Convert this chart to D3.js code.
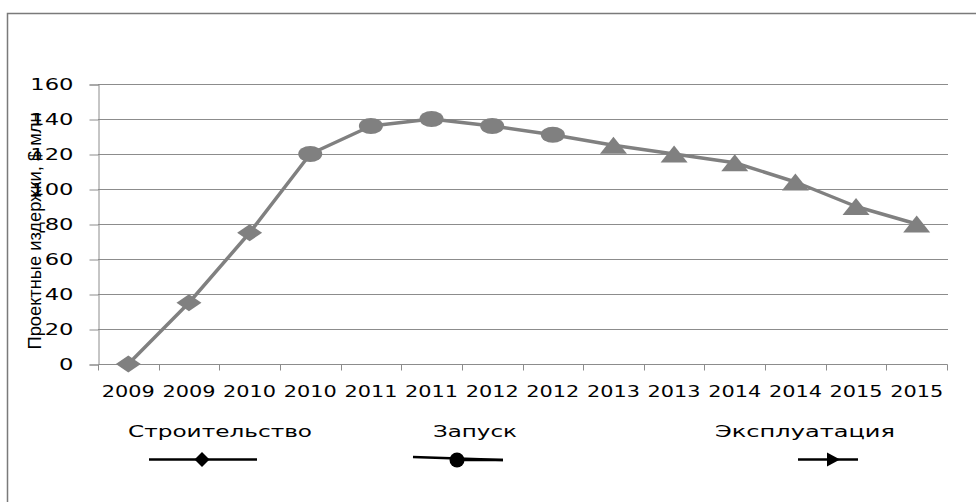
<!DOCTYPE html>
<html>
<head>
<meta charset="utf-8">
<script src="https://cdn.jsdelivr.net/npm/d3@7"></script>
<style>
  body { margin: 0; background: #fff; }
  text { font-family: "DejaVu Sans", sans-serif; fill: #000; }
</style>
</head>
<body>
<div id="chart"></div>
<script>
// categories along the x axis (labels repeat, so positions are indices)
const years = ["2009", "2009", "2010", "2010", "2011", "2011", "2012",
               "2012", "2013", "2013", "2014", "2014", "2015", "2015"];
// project costs, $ mln
const costs = [0, 35, 75, 120, 136, 140, 136, 131, 125, 120, 115, 104, 90, 80];
// phase of each point: 0 construction, 1 launch, 2 operation
const phase = [0, 0, 0, 1, 1, 1, 1, 1, 2, 2, 2, 2, 2, 2];
const phaseNames = ["Строительство", "Запуск", "Эксплуатация"];
const yTicks = [0, 20, 40, 60, 80, 100, 120, 140, 160];

const width = 976, height = 502;
const gray = "#808080";

const svg = d3.select("#chart").append("svg")
  .attr("width", width)
  .attr("height", height);

// outer frame
svg.append("rect")
  .attr("x", 7.5).attr("y", 13.5)
  .attr("width", 1000).attr("height", 600)
  .attr("fill", "none").attr("stroke", "#7a7a7a").attr("stroke-width", 1.5);

const x = d3.scaleBand()
  .domain(d3.range(years.length))
  .range([98, 947]);

const y = d3.scaleLinear()
  .domain([0, 160])
  .range([364, 84]);

// gridlines
svg.append("g").selectAll("line").data(yTicks.slice(1)).enter()
  .append("line")
    .attr("x1", 98).attr("x2", 948)
    .attr("y1", d => Math.round(y(d)) + 0.5)
    .attr("y2", d => Math.round(y(d)) + 0.5)
    .attr("stroke", "#8c8c8c");

// y axis
const yAxis = svg.append("g")
  .attr("transform", "translate(98.5,0.5)")
  .call(d3.axisLeft(y).tickValues(yTicks).tickSize(9).tickPadding(16));
yAxis.select(".domain").attr("stroke", "#8c8c8c");
yAxis.selectAll(".tick line").attr("stroke", "#8c8c8c");
yAxis.selectAll(".tick text")
  .style("font-size", "16.5px")
  .style("font-family", "DejaVu Sans")
  .attr("textLength", d => String(d).length * 14.4)
  .attr("lengthAdjust", "spacingAndGlyphs");

// x axis, ticks on category boundaries
const xAxisG = svg.append("g")
  .attr("transform", "translate(0.5," + (y(0) + 0.5) + ")");
xAxisG.append("line")
  .attr("x1", 98).attr("x2", 947)
  .attr("stroke", "#8c8c8c");
xAxisG.selectAll(".xt").data(d3.range(years.length + 1)).enter()
  .append("line")
    .attr("x1", i => Math.round(i < years.length ? x(i) : x.range()[1]))
    .attr("x2", i => Math.round(i < years.length ? x(i) : x.range()[1]))
    .attr("y1", 0).attr("y2", 6)
    .attr("stroke", "#8c8c8c");
svg.append("g").selectAll("text").data(years).enter()
  .append("text")
    .attr("x", (d, i) => x(i) + x.bandwidth() / 2)
    .attr("y", 397)
    .attr("text-anchor", "middle")
    .attr("textLength", 53)
    .attr("lengthAdjust", "spacingAndGlyphs")
    .style("font-size", "16.5px")
    .text(d => d);

// y axis title
svg.append("text")
  .attr("transform", "translate(41,231) rotate(-90)")
  .attr("text-anchor", "middle")
  .attr("textLength", 237)
  .attr("lengthAdjust", "spacingAndGlyphs")
  .style("font-family", "Liberation Sans")
  .style("font-size", "19px")
  .text("Проектные издержки, $ млн");

// line
const line = d3.line()
  .x((d, i) => x(i) + x.bandwidth() / 2)
  .y(d => y(d));

svg.append("path")
  .datum(costs)
  .attr("fill", "none")
  .attr("stroke", gray)
  .attr("stroke-width", 3.5)
  .attr("stroke-linejoin", "round")
  .attr("d", line);

// marker shapes (drawn wider than tall, like the picture)
function marker(p, w, h) {
  if (p === 0) return `M${-w},0L0,${-h}L${w},0L0,${h}Z`;
  if (p === 1) return `M${-w},0A${w},${h} 0 1,0 ${w},0A${w},${h} 0 1,0 ${-w},0Z`;
  return `M0,${-h}L${w},${h}L${-w},${h}Z`;
}

svg.append("g").selectAll("path").data(costs).enter()
  .append("path")
    .attr("transform", (d, i) => `translate(${x(i) + x.bandwidth() / 2},${y(d)})`)
    .attr("d", (d, i) => phase[i] === 0 ? marker(0, 12.5, 8.5)
                        : phase[i] === 1 ? marker(1, 12, 8)
                        : marker(2, 13.5, 8.5))
    .attr("fill", gray);

// legend: label above, sample line with marker below
const legend = [
  { cx: 220, x1: 149, x2: 257, m: 202 },
  { cx: 475, x1: 413, x2: 503, m: 457 },
  { cx: 805, x1: 798, x2: 858, m: 833 }
];
const textW = [184, 84, 180];

legend.forEach((l, i) => {
  svg.append("text")
    .attr("x", l.cx).attr("y", 437)
    .attr("text-anchor", "middle")
    .attr("textLength", textW[i])
    .attr("lengthAdjust", "spacingAndGlyphs")
    .style("font-size", "16.5px")
    .text(phaseNames[i]);

  svg.append("line")
    .attr("x1", l.x1).attr("x2", l.x2)
    .attr("y1", i === 1 ? 457 : 459.5).attr("y2", i === 1 ? 460 : 459.5)
    .attr("stroke", "#000").attr("stroke-width", 2.5);
  if (i === 1) {
    svg.append("line")
      .attr("x1", l.m).attr("x2", l.x2)
      .attr("y1", 460).attr("y2", 460)
      .attr("stroke", "#000").attr("stroke-width", 2.5);
  }

  let d;
  if (i === 0) d = marker(0, 7.5, 7.5);
  else if (i === 1) d = marker(1, 7.5, 7.5);
  else d = "M-6,-7L7,0L-6,7Z";
  svg.append("path")
    .attr("transform", `translate(${l.m},${i === 1 ? 460 : 459.5})`)
    .attr("d", d)
    .attr("fill", "#000");
});
</script>
</body>
</html>
